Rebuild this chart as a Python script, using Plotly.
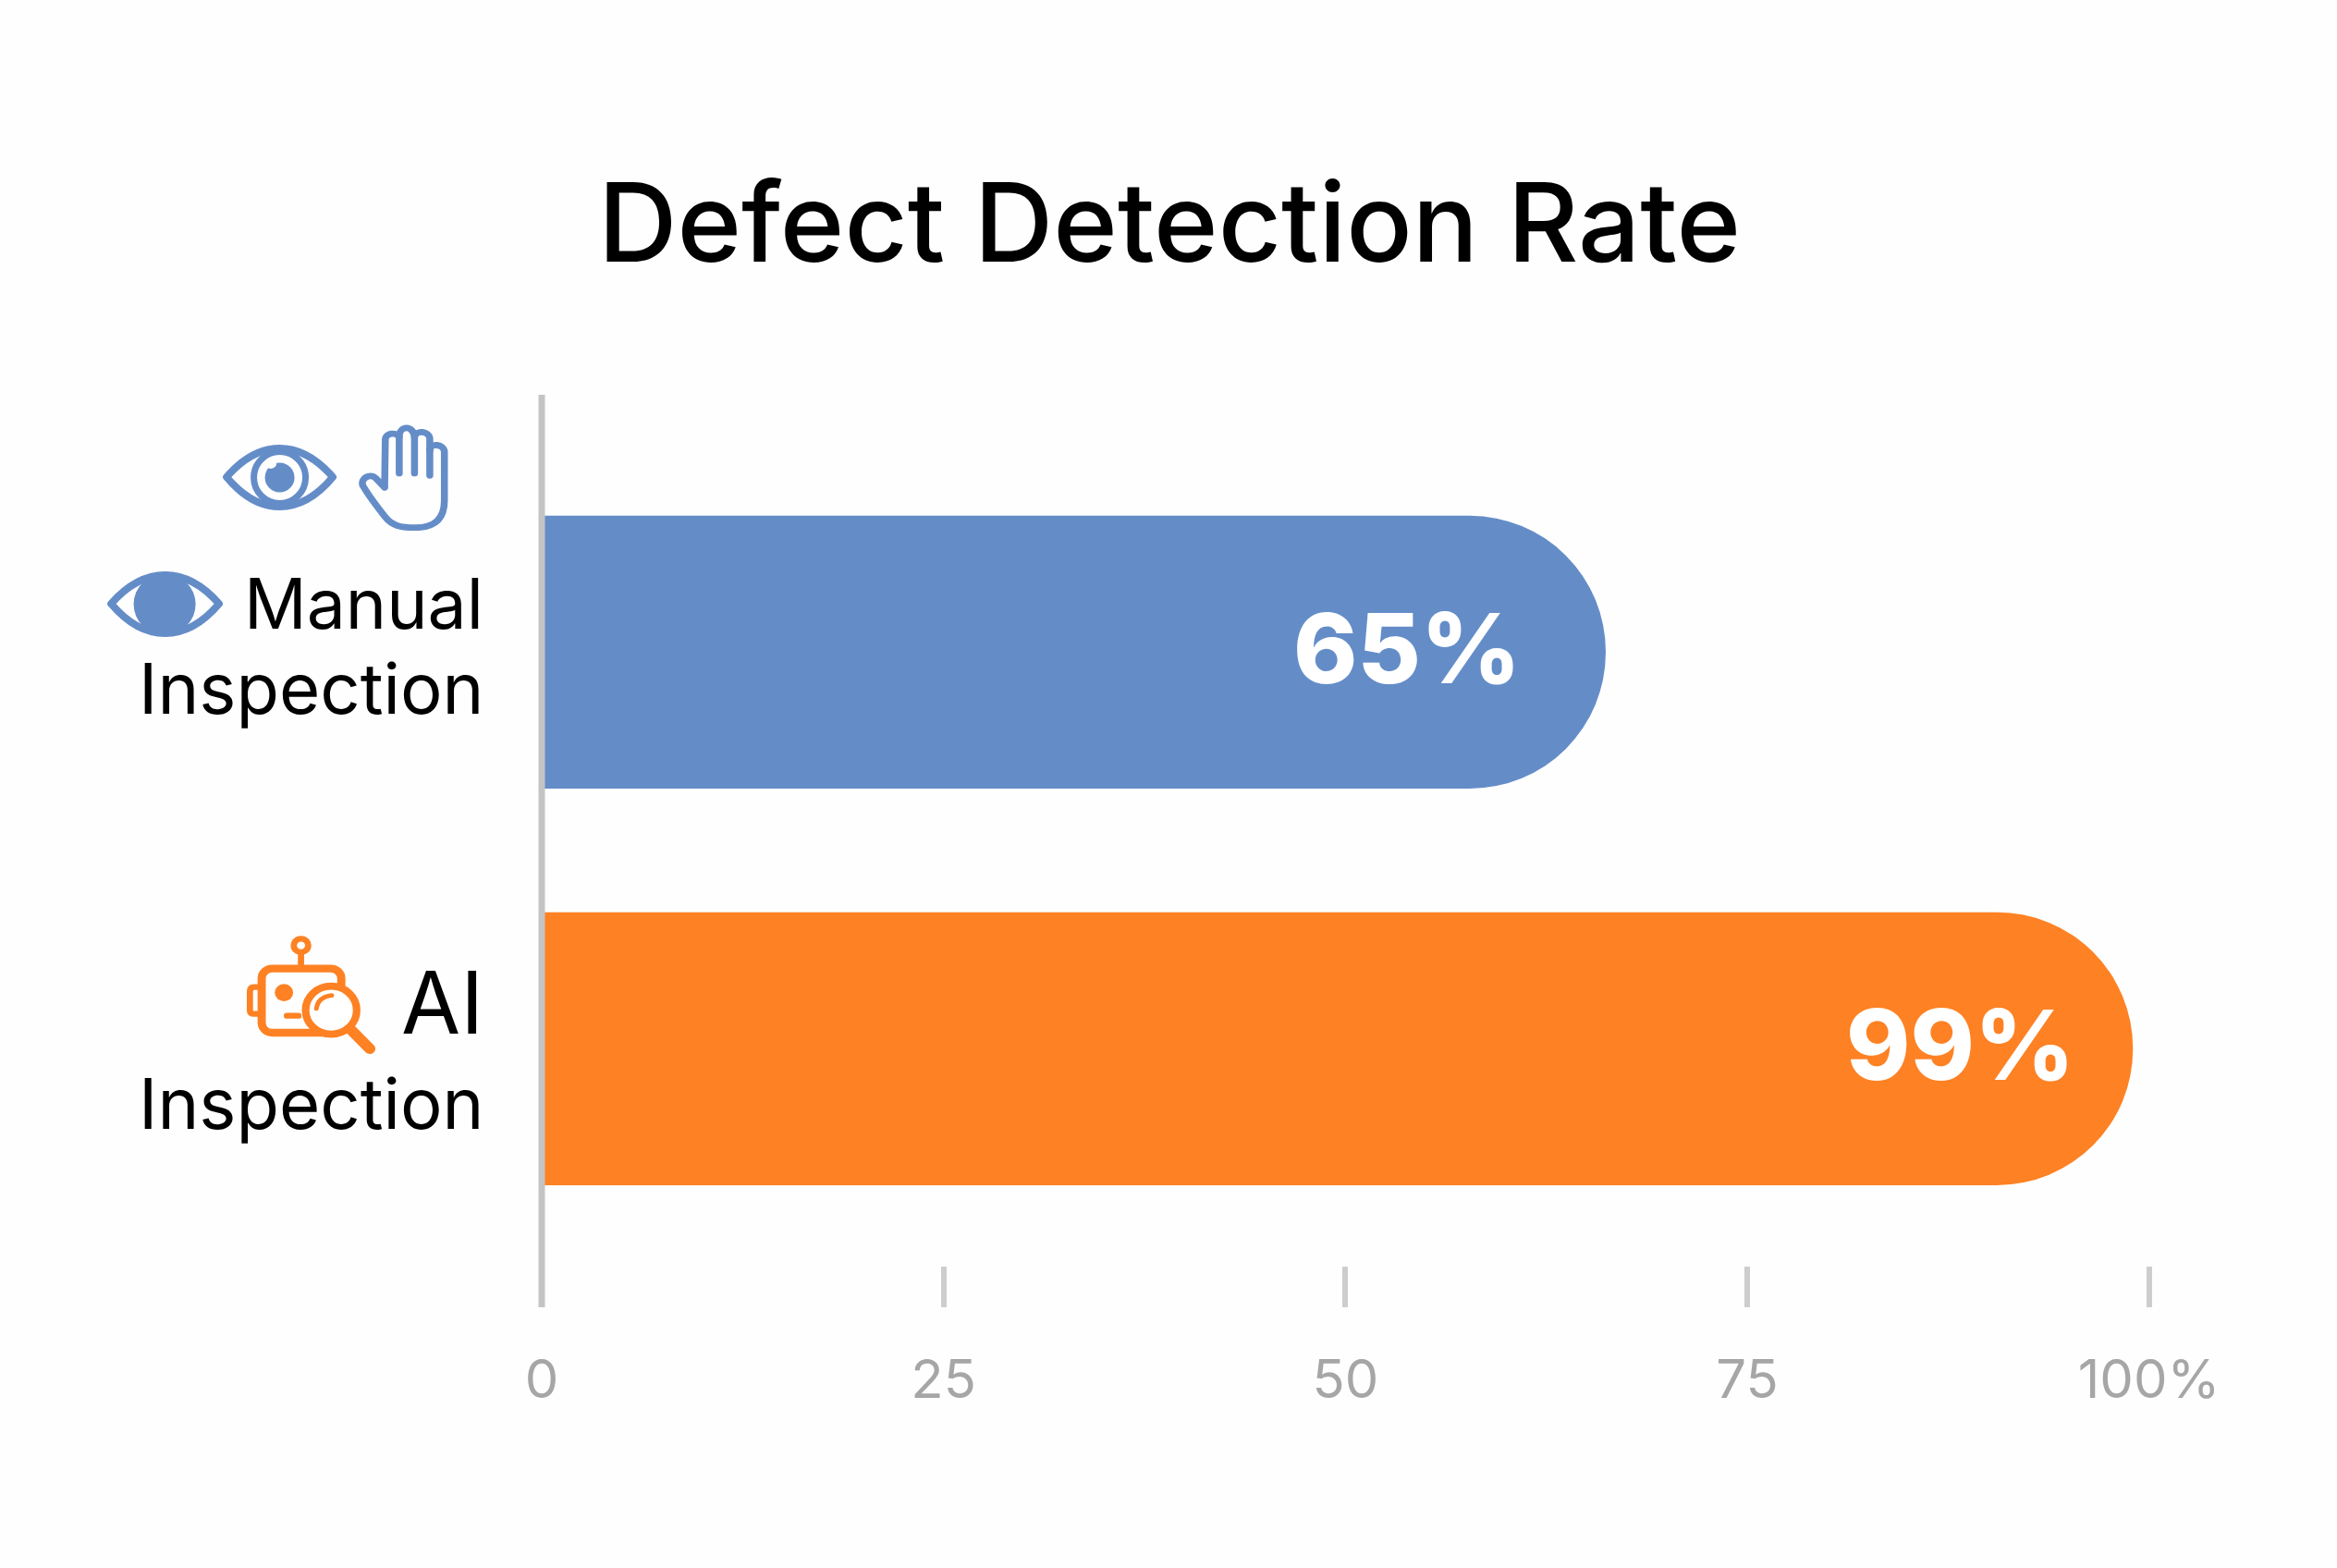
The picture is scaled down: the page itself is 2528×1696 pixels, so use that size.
import base64
import plotly.graph_objects as go

categories = ["Manual Inspection", "AI Inspection"]
bar_values = [66.2, 99]
value_labels = ["65%", "99%"]
bar_colors = ["#648DC8", "#FE8123"]
label_lines = [["Manual", "Inspection"], ["AI", "Inspection"]]
tick_values = [0, 25, 50, 75, 100]
tick_labels = ["0", "25", "50", "75", "100%"]
title_text = "Defect Detection Rate"

W, H = 2528, 1696
L, R, T, B = 586, 2342.4, 427, 1414
FONT = "Inter"
BLUE, ORANGE = bar_colors


def svg_uri(view, w, h, body):
    svg = (f'<svg xmlns="http://www.w3.org/2000/svg" width="{w}" height="{h}" '
           f'viewBox="{view}" preserveAspectRatio="none">{body}</svg>')
    return "data:image/svg+xml;base64," + base64.b64encode(svg.encode()).decode()


ALMOND = "M6 36 C26 13 45 5 63.5 5 C82 5 101 13 121 36 C101 60 82 68 63.5 68 C45 68 26 60 6 36 Z"
eye_open = (
    f'<path d="{ALMOND}" fill="none" stroke="{BLUE}" stroke-width="8" stroke-linejoin="round"/>'
    f'<circle cx="63.5" cy="36.5" r="28" fill="#fff" stroke="{BLUE}" stroke-width="7"/>'
    f'<circle cx="63.5" cy="36.5" r="16" fill="{BLUE}"/>'
    f'<path d="M51 26 A6 6 0 0 0 60 20 L50 20 Z" fill="#fff"/>'
)
eye_solid = (
    f'<defs><clipPath id="c"><path d="{ALMOND}"/></clipPath></defs>'
    f'<path d="{ALMOND}" fill="none" stroke="{BLUE}" stroke-width="8" stroke-linejoin="round"/>'
    f'<circle cx="63" cy="36.5" r="33" fill="{BLUE}" clip-path="url(#c)"/>'
)
hand = (
    f'<g fill="none" stroke="{BLUE}" stroke-width="21" stroke-linecap="round" stroke-linejoin="round">'
    '<path d="M78 212 L50 180 C35 165 5 180 12 205 C30 240 55 275 80 310 C100 338 125 345 170 345 '
    'C230 345 258 315 258 255 L258 95 C258 68 214 62 214 90 L214 50 C212 25 172 20 168 45 '
    'C165 5 122 5 122 45 C115 28 80 30 80 55 L78 212"/>'
    '<path d="M122 45 L122 165 M168 45 L168 165 M214 85 L214 172"/></g>'
)
robot = (
    f'<g fill="none" stroke="{ORANGE}" stroke-linecap="round" stroke-linejoin="round">'
    '<circle cx="688" cy="130" r="22" stroke-width="19"/>'
    '<path d="M688 155 L688 200" stroke-width="19"/>'
    '<rect x="568" y="205" width="243" height="208" rx="32" stroke-width="25"/>'
    '<path d="M556 265 L545 265 Q532 265 532 280 L532 340 Q532 352 545 352 L556 352" stroke-width="19"/>'
    f'<circle cx="636" cy="283" r="28" fill="{ORANGE}" stroke="none"/>'
    '<path d="M645 358 L680 358" stroke-width="19"/>'
    '<circle cx="780" cy="340" r="78" fill="#fff" stroke-width="23"/>'
    '<path d="M842 405 L898 465" stroke-width="34"/>'
    '<path d="M735 335 Q740 297 782 292" stroke-width="14"/></g>'
)

# icon boxes in page pixels: left, top, width, height
icons = [
    (239, 480, 127, 73, "0 0 127 73", eye_open),
    (388, 458, 97, 116, "0 0 270 355", hand),
    (114, 617, 129, 73, "0 0 127 73", eye_solid),
    (266, 1012, 140, 129, "520 98 395 387", robot),
]
images = []
for left, top, w, h, view, body in icons:
    images.append(dict(
        source=svg_uri(view, w, h, body), xref="paper", yref="paper",
        x=(left - L) / (R - L), y=(B - top) / (B - T),
        sizex=w / (R - L), sizey=h / (B - T),
        xanchor="left", yanchor="top", sizing="stretch", layer="above",
    ))

fig = go.Figure(go.Bar(
    y=categories, x=bar_values, orientation="h",
    marker=dict(color=bar_colors, line=dict(width=0), cornerradius=147),
    width=0.688, hoverinfo="skip",
))

annotations = []
for cat, val, lab, shift in zip(categories, bar_values, value_labels, [-90, -61]):
    annotations.append(dict(
        x=val, y=cat, xref="x", yref="y", text=lab, showarrow=False,
        xanchor="right", yanchor="middle", xshift=shift, yshift=5,
        font=dict(family=FONT, size=105, color="#FFFFFF", weight=800),
    ))
for cat, lines, shifts, sizes in zip(categories, label_lines, [(53, -39), (50, -59)], [(75, 76), (93, 76)]):
    for line, s, size in zip(lines, shifts, sizes):
        annotations.append(dict(
            x=0, y=cat, xref="x", yref="y", text=line, showarrow=False,
            xanchor="right", yanchor="middle", xshift=-61, yshift=s,
            font=dict(family=FONT, size=size, color="#000000"),
        ))

fig.update_layout(
    width=W, height=H, margin=dict(l=L, r=W - R, t=T, b=H - B, pad=0),
    paper_bgcolor="#FEFEFE", plot_bgcolor="#FEFEFE", showlegend=False,
    title=dict(text=title_text, x=1265 / W, xanchor="center", y=1 - 242 / H, yanchor="middle",
               font=dict(family=FONT, size=118.5, color="#000000", weight=500)),
    xaxis=dict(range=[0, 101], tickvals=tick_values, ticktext=tick_labels,
               ticks="inside", ticklen=44, tickwidth=6, tickcolor="#CDCDCD",
               showgrid=False, zeroline=False, showline=False, ticklabelstandoff=39,
               tickfont=dict(family=FONT, size=58, color="#A6A6A6")),
    yaxis=dict(type="category", categoryorder="array", categoryarray=categories,
               range=[1.652, -0.649], showticklabels=False, ticks="",
               showgrid=False, zeroline=False, showline=False),
    shapes=[dict(type="line", xref="paper", yref="paper", x0=0, x1=0, y0=0, y1=1,
                 line=dict(color="#C4C4C4", width=7), layer="above")],
    images=images, annotations=annotations,
)
fig.write_html("out.html", post_script="document.body.style.margin='0';",
               config={"displayModeBar": False})
